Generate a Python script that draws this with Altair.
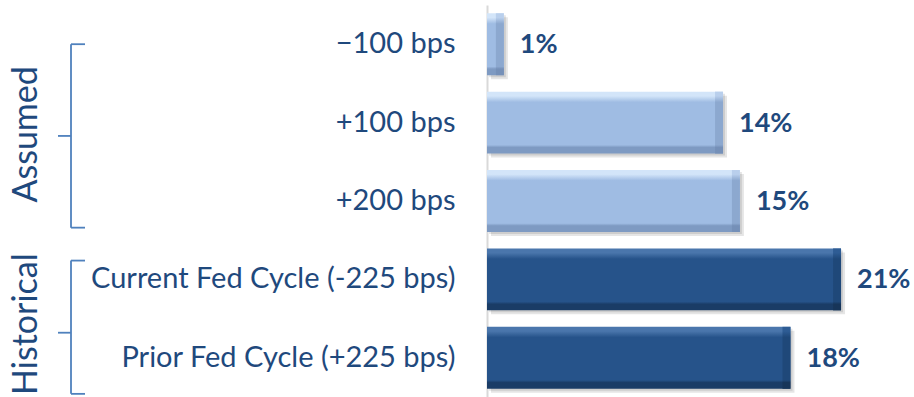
import altair as alt
import pandas as pd

# Scenario rows, top to bottom
categories = [
    "−100 bps",
    "+100 bps",
    "+200 bps",
    "Current Fed Cycle (-225 bps)",
    "Prior Fed Cycle (+225 bps)",
]
values = [1, 14, 15, 21, 18]
value_labels = ["1%", "14%", "15%", "21%", "18%"]
groups = ["Assumed", "Assumed", "Assumed", "Historical", "Historical"]

# Group brackets, in row units (0 = first row centre)
group_names = ["Assumed", "Historical"]
bracket_top = [0.0, 2.76]
bracket_mid = [1.17, 3.68]
bracket_bottom = [2.34, 4.46]
group_label_pos = [1.15, 3.57]

TEXT = "#1F497D"
FONT = "Lato"

bars = pd.DataFrame({"cat": categories, "value": values, "label": value_labels, "group": groups})
brackets = pd.DataFrame({
    "group": group_names,
    "top": bracket_top,
    "mid": bracket_mid,
    "bottom": bracket_bottom,
    "label_pos": group_label_pos,
})

W, H = 408, 392

def bevel(top, main, bottom):
    return alt.LinearGradient(
        gradient="linear", x1=0, y1=0, x2=0, y2=1,
        stops=[
            alt.GradientStop(color=top, offset=0),
            alt.GradientStop(color=top, offset=0.07),
            alt.GradientStop(color=main, offset=0.17),
            alt.GradientStop(color=main, offset=0.86),
            alt.GradientStop(color=bottom, offset=0.9),
            alt.GradientStop(color=bottom, offset=1),
        ],
    )

light_fill = bevel("#D3E5F9", "#9FBCE3", "#7E9AC2")
dark_fill = bevel("#4A76AC", "#26538A", "#1A3C66")
light_side = bevel("#B9CFEC", "#8CA8CF", "#7590B8")
dark_side = bevel("#2E5C94", "#1F4879", "#173559")

is_assumed = alt.datum.group == "Assumed"

y_band = alt.Y(
    "cat:N",
    sort=categories,
    scale=alt.Scale(paddingInner=0.21, paddingOuter=0.105),
    axis=alt.Axis(
        title=None,
        ticks=False,
        labelFontSize=29,
        labelFont=FONT,
        labelColor=TEXT,
        labelPadding=32,
        labelLimit=460,
        domainColor="#D9D9D9",
        domainWidth=2,
        grid=False,
    ),
)
x_val = alt.X("value:Q", scale=alt.Scale(domain=[0, 24.2]), axis=None)

base = alt.Chart(bars).encode(y=y_band)

shadow1 = base.mark_bar(color="#000000", opacity=0.10, xOffset=4, yOffset=4).encode(x=x_val)
shadow2 = base.mark_bar(color="#000000", opacity=0.10, xOffset=2, yOffset=2).encode(x=x_val)

body = base.mark_bar().encode(
    x=x_val,
    color=alt.condition(is_assumed, alt.value(light_fill), alt.value(dark_fill)),
)

side = base.mark_bar(xOffset=-8).encode(
    x=x_val,
    x2="value:Q",
    color=alt.condition(is_assumed, alt.value(light_side), alt.value(dark_side)),
)

labels = base.mark_text(
    align="left", baseline="middle", dx=16, dy=1,
    font=FONT, fontSize=27, fontWeight="bold", color=TEXT,
).encode(x=x_val, text="label:N")

# Brackets and group titles on a row-unit scale that lines up with the bands
y_rows = alt.Scale(domain=[-0.5, 4.5], reverse=True)
bk = alt.Chart(brackets)
BLUE = "#4F81BD"
vert = bk.mark_rule(color=BLUE, strokeWidth=1.8).encode(
    x=alt.value(-416),
    y=alt.Y("top:Q", scale=y_rows, axis=None),
    y2="bottom:Q",
)
hook_top = bk.mark_rule(color=BLUE, strokeWidth=1.8).encode(
    x=alt.value(-416), x2=alt.value(-402),
    y=alt.Y("top:Q", scale=y_rows, axis=None),
)
hook_bottom = bk.mark_rule(color=BLUE, strokeWidth=1.8).encode(
    x=alt.value(-416), x2=alt.value(-402),
    y=alt.Y("bottom:Q", scale=y_rows, axis=None),
)
hook_mid = bk.mark_rule(color=BLUE, strokeWidth=1.8).encode(
    x=alt.value(-429), x2=alt.value(-416),
    y=alt.Y("mid:Q", scale=y_rows, axis=None),
)
group_text = bk.mark_text(
    angle=270, align="center", baseline="middle",
    font=FONT, fontSize=34, color=TEXT,
).encode(
    x=alt.value(-460),
    y=alt.Y("label_pos:Q", scale=y_rows, axis=None),
    text="group:N",
)

bar_layer = alt.layer(shadow1, shadow2, body, side, labels)
bracket_layer = alt.layer(vert, hook_top, hook_bottom, hook_mid, group_text)

chart = (
    alt.layer(bar_layer, bracket_layer)
    .resolve_scale(y="independent")
    .properties(
        width=W,
        height=H,
        autosize=alt.AutoSizeParams(type="none"),
        padding={"left": 487, "top": 5, "right": 19, "bottom": 0},
        background="white",
    )
    .configure_view(stroke=None)
)

chart.save("out.html", embed_options={"renderer": "svg", "actions": False})
